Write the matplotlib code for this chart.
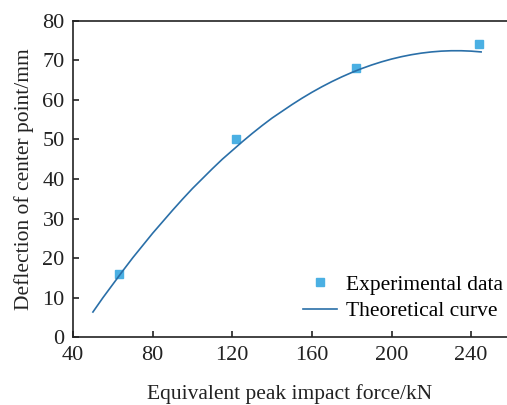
import matplotlib.pyplot as plt

plt.rcParams['font.family'] = ['Liberation Serif', 'DejaVu Serif']

# experimental points
force_exp = [63, 122, 182, 244]
defl_exp = [16, 50, 68, 74]

# theoretical curve
force_th = [50, 55, 60, 65, 70, 75, 80, 85, 90, 95, 100, 105, 110, 115,
            120, 125, 130, 135, 140, 145, 150, 155, 160, 165, 170, 175,
            180, 185, 190, 195, 200, 205, 210, 215, 220, 225, 230, 235,
            240, 245]
defl_th = [6.4, 10.0, 13.4, 16.8, 20.1, 23.2, 26.3, 29.2, 32.1, 34.9,
           37.6, 40.1, 42.6, 45.0, 47.2, 49.4, 51.5, 53.5, 55.4, 57.1,
           58.8, 60.4, 61.9, 63.3, 64.6, 65.8, 66.9, 67.9, 68.8, 69.6,
           70.3, 70.9, 71.4, 71.8, 72.1, 72.3, 72.4, 72.4, 72.3, 72.1]

xticks = [40, 80, 120, 160, 200, 240]
yticks = [0, 10, 20, 30, 40, 50, 60, 70, 80]

fig = plt.figure(figsize=(5.07, 4.05), dpi=100)
ax = fig.add_axes([0.144, 0.167, 0.856, 0.782])

ax.plot(force_exp, defl_exp, 's', color='#4BB0E3', markersize=6,
        label='Experimental data')
ax.plot(force_th, defl_th, '-', color='#2A6FA8', linewidth=1.2,
        label='Theoretical curve')

ax.set_xlim(40, 258)
ax.set_ylim(0, 80)
ax.set_xticks(xticks)
ax.set_yticks(yticks)
ax.spines['right'].set_visible(False)
for s in ['left', 'bottom', 'top']:
    ax.spines[s].set_linewidth(1.2)
    ax.spines[s].set_color('#222222')
ax.tick_params(direction='in', length=4, width=1.2, labelsize=16,
               colors='#222222', pad=6, top=False, right=False)

ax.set_xlabel('Equivalent peak impact force/kN', fontsize=15.5, labelpad=14,
              color='#222222')
ax.set_ylabel('Deflection of center point/mm', fontsize=15.5, labelpad=6,
              color='#222222')

ax.legend(loc='lower right', frameon=False, fontsize=15.5,
          bbox_to_anchor=(1.035, -0.01), handlelength=1.6, handletextpad=0.4,
          labelspacing=0.3)

fig.savefig('out.png', dpi=100)
